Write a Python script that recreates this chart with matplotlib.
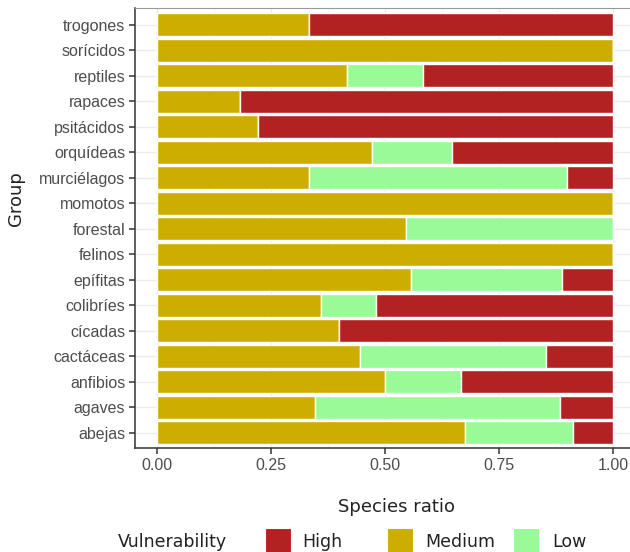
import matplotlib
matplotlib.use("Agg")
import matplotlib.pyplot as plt
from matplotlib.patches import Rectangle
from matplotlib.ticker import MultipleLocator
import numpy as np

# Species ratio per group, split by vulnerability (bottom to top)
groups = ["abejas", "agaves", "anfibios", "cactáceas", "cícadas", "colibríes",
          "epífitas", "felinos", "forestal", "momotos", "murciélagos",
          "orquídeas", "psitácidos", "rapaces", "reptiles", "sorícidos", "trogones"]
medium = [0.675, 0.347, 0.500, 0.446, 0.400, 0.360, 0.556, 1.000, 0.547, 1.000,
          0.333, 0.471, 0.222, 0.182, 0.417, 1.000, 0.333]
low = [0.237, 0.537, 0.167, 0.407, 0.000, 0.120, 0.333, 0.000, 0.453, 0.000,
       0.567, 0.176, 0.000, 0.000, 0.166, 0.000, 0.000]
high = list(1 - np.array(medium) - np.array(low))

levels = ["High", "Medium", "Low"]
colors = {"High": "#B22222", "Medium": "#CDAD00", "Low": "#98FB98"}

fig = plt.figure(figsize=(6.3, 5.52), dpi=100)
ax = fig.add_axes([135 / 630, 104 / 552, 500 / 630, 440 / 552])

y = np.arange(len(groups))
med = np.array(medium)
lo = np.array(low)
hi = np.array(high)
ax.barh(y, med, height=0.9, color=colors["Medium"], edgecolor="white", linewidth=1, zorder=3)
ax.barh(y, lo, left=med, height=0.9, color=colors["Low"], edgecolor="white", linewidth=1, zorder=3)
ax.barh(y, hi, left=med + lo, height=0.9, color=colors["High"], edgecolor="white", linewidth=1, zorder=3)

ax.set_xlim(-0.0484, 1.0484)
ax.set_ylim(-0.6, len(groups) - 0.35)
ax.set_yticks(y)
ax.set_yticklabels(groups)
ax.xaxis.set_minor_locator(MultipleLocator(0.125))
ax.set_xticks([0, 0.25, 0.5, 0.75, 1.0])
ax.set_xticklabels(["0.00", "0.25", "0.50", "0.75", "1.00"])

ax.grid(which="major", color="#EBEBEB", linewidth=1.0, zorder=0)
ax.grid(which="minor", axis="x", color="#F3F3F3", linewidth=0.6, zorder=0)
ax.tick_params(which="minor", length=0)
ax.tick_params(which="major", length=4, width=1.1, color="#333333",
               labelsize=11.5, labelcolor="#4D4D4D", pad=3)
for lab in ax.get_xticklabels() + ax.get_yticklabels():
    lab.set_family("Liberation Sans")
for s in ["top", "right"]:
    ax.spines[s].set_color("#999999")
for s in ["left", "bottom"]:
    ax.spines[s].set_color("#333333")
    ax.spines[s].set_linewidth(1.1)

title_font = "DejaVu Sans"
fig.text(397 / 630, 1 - 507 / 552, "Species ratio", ha="center", va="center",
         fontsize=13, family=title_font, color="#222222")
fig.text(16 / 630, 1 - 199 / 552, "Group", ha="center", va="center", rotation=90,
         fontsize=13, family=title_font, color="#222222")

# legend drawn along the bottom edge
ly = 1 - 542 / 552
fig.text(118 / 630, ly, "Vulnerability", ha="left", va="center",
         fontsize=12.5, family=title_font, color="#222222")
key_x = [265, 387, 513]
lab_x = [302, 425, 552]
for lev, kx, tx in zip(levels, key_x, lab_x):
    fig.patches.append(Rectangle((kx / 630, 1 - 553 / 552), 26 / 630, 25 / 552,
                                 transform=fig.transFigure, facecolor=colors[lev],
                                 edgecolor="white", linewidth=0.8))
    fig.text(tx / 630, ly, lev, ha="left", va="center", fontsize=12.5,
             family=title_font, color="#222222")

fig.savefig("out.png", dpi=100)
